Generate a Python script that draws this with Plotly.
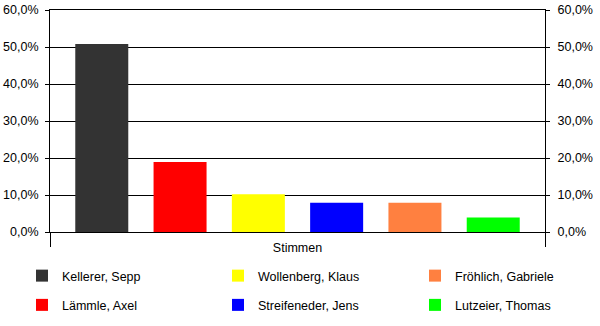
import plotly.graph_objects as go

# Election result: vote share per candidate
candidates = [
    "Kellerer, Sepp",
    "Lämmle, Axel",
    "Wollenberg, Klaus",
    "Streifeneder, Jens",
    "Fröhlich, Gabriele",
    "Lutzeier, Thomas",
]
shares = [50.8, 18.9, 10.2, 7.9, 7.9, 3.9]
colors = ["#333333", "#ff0000", "#ffff00", "#0000ff", "#ff8040", "#00ff00"]
legend_columns = ["legend", "legend", "legend2", "legend2", "legend3", "legend3"]
category = "Stimmen"
y_ticks = [0, 10, 20, 30, 40, 50, 60]
y_tick_labels = [f"{v:.1f}%".replace(".", ",") for v in y_ticks]

FONT = "Liberation Sans, Arial, sans-serif"
FS = 12.5
W, H = 600, 326
# plot area in pixels
PL, PR, PT, PB = 50, 545, 10, 232


def px_x(x):
    return (x - PL) / (PR - PL)


def px_y(y):
    return (PB - y) / (PB - PT)


fig = go.Figure()
for name, val, col, leg in zip(candidates, shares, colors, legend_columns):
    fig.add_trace(go.Bar(
        x=[category], y=[val], name=name,
        marker=dict(color=col, line=dict(width=0)),
        legend=leg, legendgroup=name,
        hoverinfo="skip",
    ))

# empty trace so the right-hand value axis is drawn
fig.add_trace(go.Scatter(
    x=[category], y=[None], yaxis="y2", mode="markers",
    showlegend=False, hoverinfo="skip",
))

axis_common = dict(
    range=[0, 60], tickvals=y_ticks, ticktext=y_tick_labels,
    ticks="outside", ticklen=4, tickcolor="black",
    showline=True, linecolor="black", linewidth=1,
    tickfont=dict(family=FONT, size=FS, color="black"),
    zeroline=False, automargin=False,
)

legend_common = dict(
    yanchor="top", xanchor="left",
    orientation="v", tracegroupgap=10, bgcolor="rgba(0,0,0,0)",
    font=dict(family=FONT, size=FS, color="black"),
)

fig.update_layout(
    width=W, height=H,
    margin=dict(l=PL, r=W - PR, t=PT, b=H - PB, autoexpand=False),
    paper_bgcolor="white", plot_bgcolor="white",
    barmode="group", bargap=0.051, bargroupgap=0.323,
    xaxis=dict(
        type="category", tickson="boundaries",
        ticks="outside", ticklen=14, tickcolor="black",
        ticklabelstandoff=4, tickangle=0, automargin=False,
        showline=True, mirror=True, linecolor="black", linewidth=1,
        showgrid=False,
        tickfont=dict(family=FONT, size=FS, color="black"),
    ),
    yaxis=dict(**axis_common, showgrid=True, gridcolor="black", gridwidth=1,
               ticklabelstandoff=4),
    yaxis2=dict(**axis_common, overlaying="y", side="right", anchor="x",
                showgrid=False, ticklabelstandoff=5),
    legend=dict(**legend_common, x=px_x(22), y=px_y(261)),
    legend2=dict(**legend_common, x=px_x(218), y=px_y(261)),
    legend3=dict(**legend_common, x=px_x(415), y=px_y(261)),
    showlegend=True,
)

fig.write_html("out.html")
